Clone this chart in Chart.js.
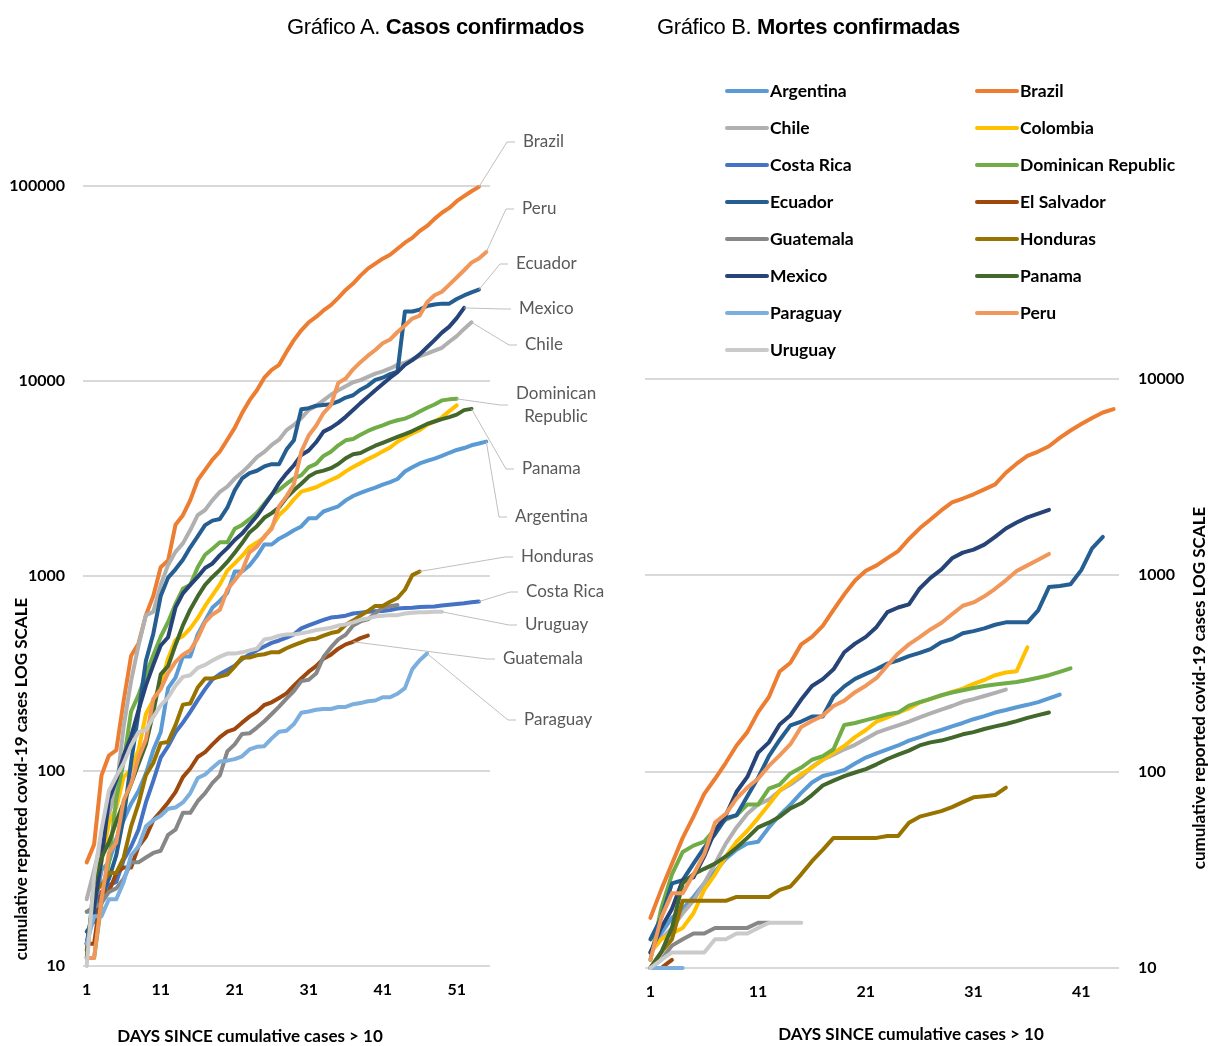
<!DOCTYPE html>
<html>
<head>
<meta charset="utf-8">
<script src="https://cdn.jsdelivr.net/npm/chart.js@4.4.1/dist/chart.umd.min.js"></script>
<style>
html, body { margin: 0; padding: 0; background: #fff; }
#wrap { position: relative; width: 1209px; height: 1046px; overflow: hidden; }
#chartA { position: absolute; left: 0; top: 0; }
#chartB { position: absolute; left: 610px; top: 0; }
.title {
    position: absolute; top: 14px; line-height: 26px;
    font-family: "Liberation Sans", Arial, sans-serif; font-size: 22px;
    letter-spacing: -0.35px; color: #000; white-space: nowrap;
}
</style>
</head>
<body>
<div id="wrap">
    <canvas id="chartA" width="610" height="1046"></canvas>
    <canvas id="chartB" width="599" height="1046"></canvas>
    <div class="title" style="left:287px">Gráfico A. <b>Casos confirmados</b></div>
    <div class="title" style="left:657px">Gráfico B. <b>Mortes confirmadas</b></div>
</div>
<script>
// ---- data ----
const daysA = Array.from({length: 55}, (_, i) => String(i + 1));
const daysB = Array.from({length: 44}, (_, i) => String(i + 1));
const yTicksA = [10, 100, 1000, 10000, 100000];
const yTicksB = [10, 100, 1000, 10000];

const countries = ["Argentina", "Brazil", "Chile", "Colombia", "Costa Rica",
    "Dominican Republic", "Ecuador", "El Salvador", "Guatemala", "Honduras",
    "Mexico", "Panama", "Paraguay", "Peru", "Uruguay"];

const colors = ["#5B9BD5", "#ED7D31", "#B0B0B0", "#FFC000", "#4472C4",
    "#70AD47", "#255E91", "#9E480E", "#878787", "#997300",
    "#264478", "#43682B", "#7CAFDD", "#F1975A", "#CACACA"];

// confirmed cases (chart A)
const argentinaCases = [19,19,31,34,45,56,68,79,97,128,158,266,301,387,387,502,589,690,745,820,1054,1054,1133,1265,1451,1451,1554,1628,1715,1795,1975,1975,2142,2208,2277,2443,2571,2669,2758,2839,2941,3031,3144,3435,3607,3780,3892,4003,4127,4285,4428,4532,4681,4783,4887];
const brazilCases = [34,42,95,120,128,230,390,450,630,790,1110,1200,1830,2050,2450,3100,3500,3950,4350,5000,5750,6850,7950,8970,10400,11400,12100,14100,16200,18200,20000,21300,23000,24500,26700,29300,31600,34700,37700,40000,42400,44400,47700,51200,54200,58800,62400,67800,72900,77200,83600,88700,94000,99000];
const chileCases = [22,31,44,60,80,170,290,440,630,655,900,1140,1330,1470,1720,2050,2180,2450,2700,2870,3160,3400,3700,4070,4330,4700,5000,5600,5950,6450,7100,7450,7950,8500,8970,9400,9850,10100,10500,10900,11200,11600,12100,12400,12900,13400,13800,14300,14800,15900,17000,18500,20000];
const colombiaCases = [13,22,34,54,65,93,102,128,196,231,277,378,470,491,539,608,702,798,906,1065,1161,1267,1406,1485,1579,1780,2054,2223,2473,2709,2776,2852,2979,3105,3233,3439,3621,3792,3977,4149,4356,4561,4881,5142,5379,5597,5949,6207,6507,7006,7500];
const costaRicaCases = [13,22,23,26,27,35,41,50,69,89,117,134,158,177,201,231,263,295,314,330,347,375,396,416,435,454,467,483,502,539,558,577,595,612,618,626,642,649,655,660,662,669,681,686,687,693,695,697,705,713,719,725,733,739];
const dominicanCases = [11,11,21,34,72,112,202,245,312,392,488,581,719,859,901,1109,1284,1380,1488,1488,1745,1828,1956,2111,2349,2620,2759,2967,3167,3286,3614,3755,4126,4335,4680,4964,5044,5300,5543,5749,5926,6135,6293,6416,6652,6972,7288,7578,7954,8050,8100];
const ecuadorCases = [15,17,23,28,37,58,111,199,367,506,789,981,1082,1211,1403,1595,1823,1924,1962,2240,2748,3163,3368,3465,3646,3747,3747,4450,4965,7161,7257,7466,7529,7603,7858,8225,8450,9022,9468,10128,10398,10850,11183,22719,22719,23240,24258,24675,24934,24934,26336,27464,28500,29400];
const elSalvadorCases = [13,13,24,24,30,32,32,41,46,56,62,69,78,93,103,118,125,137,149,159,164,177,190,201,218,225,237,250,274,298,323,345,377,395,424,446,460,480,495];
const guatemalaCases = [19,20,21,24,25,28,34,34,36,38,39,47,50,61,61,70,77,87,95,126,137,155,156,167,180,196,214,235,257,289,294,316,384,430,473,500,557,585,599,644,688,700,710];
const hondurasCases = [12,24,26,30,30,36,52,68,95,110,139,141,172,219,222,268,298,298,305,312,343,382,382,392,397,407,407,426,442,457,472,477,494,510,519,562,591,627,661,702,702,738,771,850,1010,1055];
const mexicoCases = [13,20,35,71,90,120,150,205,275,350,440,485,690,815,900,990,1100,1160,1280,1390,1530,1650,1830,2030,2300,2600,3000,3350,3700,4170,4400,4850,5500,5750,6100,6550,7100,7700,8300,8970,9650,10400,11100,12100,12800,13700,14900,16200,17700,19000,21000,23700];
const panamaCases = [11,27,36,43,55,69,86,109,137,200,313,345,443,558,674,786,901,989,1075,1181,1317,1475,1673,1801,1988,2100,2249,2528,2752,2974,3234,3400,3472,3574,3751,4016,4210,4273,4467,4658,4821,4992,5166,5338,5538,5779,6021,6200,6378,6532,6720,7090,7197];
const paraguayCases = [13,18,18,22,22,27,37,41,52,56,59,64,65,69,77,92,96,104,112,113,115,119,129,133,134,147,159,161,174,199,202,206,208,208,213,213,220,223,228,230,239,239,249,266,333,370,400];
const peruCases = [11,11,22,38,43,71,86,117,145,234,263,318,363,395,416,480,580,635,671,852,950,1065,1323,1414,1595,1746,2281,2561,2954,4342,5256,5897,6848,7519,9784,10303,11475,12491,13489,14420,15628,16325,17837,19250,20914,21648,25331,27517,28699,31190,33931,36976,40459,42534,45928];
const uruguayCases = [10,29,50,79,94,110,135,158,162,189,217,238,274,304,310,338,350,369,386,400,400,406,415,424,473,480,494,501,502,508,517,528,535,543,557,565,578,596,606,620,625,630,630,642,648,652,652,655,655];

// confirmed deaths (chart B)
const argentinaDeaths = [12,15,18,20,23,27,31,36,40,43,44,52,60,68,78,88,95,98,102,110,118,124,130,136,144,150,157,163,170,177,185,192,200,206,213,219,226,236,247];
const brazilDeaths = [18,25,34,46,59,77,92,111,136,159,201,240,324,359,445,486,553,667,800,941,1056,1124,1223,1328,1532,1736,1924,2141,2354,2462,2587,2741,2906,3331,3704,4057,4271,4543,5017,5466,5901,6329,6750,7025];
const chileDeaths = [12,14,16,19,22,27,34,43,52,61,68,72,80,86,94,106,115,122,130,137,147,158,165,172,180,189,198,207,216,227,234,243,252,262];
const colombiaDeaths = [12,14,15,16,19,25,30,37,44,50,58,68,80,88,97,105,115,125,135,150,163,180,189,200,210,225,235,244,255,265,280,293,310,320,325,430];
const costaRicaDeaths = [];
const dominicanDeaths = [11,20,30,39,42,44,51,57,60,68,68,82,86,98,105,115,120,130,173,177,183,189,196,200,217,226,235,245,253,260,267,273,278,282,286,293,301,310,322,336];
const ecuadorDeaths = [14,18,27,28,34,41,48,58,60,75,93,120,145,172,180,191,191,242,272,297,315,333,355,369,388,403,421,456,474,507,520,537,560,576,576,576,663,871,883,900,1063,1371,1569];
const elSalvadorDeaths = [10,10,11];
const guatemalaDeaths = [10,11,13,14,15,15,16,16,16,16,17,17];
const hondurasDeaths = [10,12,14,22,22,22,22,22,23,23,23,23,25,26,30,35,40,46,46,46,46,46,47,47,55,59,61,63,66,70,74,75,76,83];
const mexicoDeaths = [12,16,20,28,29,37,50,60,79,94,125,141,174,194,233,273,296,332,406,449,486,546,650,686,712,857,970,1069,1221,1305,1351,1434,1569,1732,1859,1972,2061,2154];
const panamaDeaths = [10,12,16,27,30,32,34,37,41,46,52,55,59,65,69,76,85,90,95,99,103,109,116,122,128,136,141,144,149,155,159,165,170,175,181,188,194,200];
const paraguayDeaths = [10,10,10,10];
const peruDeaths = [11,18,24,24,30,38,55,61,73,83,92,107,121,138,169,181,193,216,230,254,274,300,348,400,445,484,530,572,634,700,728,782,854,943,1051,1124,1200,1286];
const uruguayDeaths = [10,11,12,12,12,12,14,14,15,15,16,17,17,17,17];

const casesSeries = [argentinaCases, brazilCases, chileCases, colombiaCases, costaRicaCases,
    dominicanCases, ecuadorCases, elSalvadorCases, guatemalaCases, hondurasCases,
    mexicoCases, panamaCases, paraguayCases, peruCases, uruguayCases];
const deathsSeries = [argentinaDeaths, brazilDeaths, chileDeaths, colombiaDeaths, costaRicaDeaths,
    dominicanDeaths, ecuadorDeaths, elSalvadorDeaths, guatemalaDeaths, hondurasDeaths,
    mexicoDeaths, panamaDeaths, paraguayDeaths, peruDeaths, uruguayDeaths];

const yTitle = "cumulative reported covid-19 cases LOG SCALE";
const xTitle = "DAYS SINCE cumulative cases > 10";

// ---- label / legend placement ----
const FONT = 'Lato, "Open Sans", sans-serif';

const caseLabelSpots = [
    {text: ["Brazil"], series: "Brazil", x: 523, y: 142},
    {text: ["Peru"], series: "Peru", x: 522, y: 209},
    {text: ["Ecuador"], series: "Ecuador", x: 516, y: 264},
    {text: ["Mexico"], series: "Mexico", x: 519, y: 309},
    {text: ["Chile"], series: "Chile", x: 525, y: 345},
    {text: ["Dominican", "Republic"], series: "Dominican Republic", x: 516, y: 405},
    {text: ["Panama"], series: "Panama", x: 522, y: 469},
    {text: ["Argentina"], series: "Argentina", x: 515, y: 517},
    {text: ["Honduras"], series: "Honduras", x: 521, y: 557},
    {text: ["Costa Rica"], series: "Costa Rica", x: 526, y: 592},
    {text: ["Uruguay"], series: "Uruguay", x: 525, y: 625},
    {text: ["Guatemala"], series: "El Salvador", point: 36, x: 503, y: 659},
    {text: ["Paraguay"], series: "Paraguay", x: 524, y: 720}
];

function buildDatasets(series) {
    return countries.map((name, i) => ({
        label: name,
        data: series[i],
        borderColor: colors[i],
        backgroundColor: colors[i],
        borderWidth: 4,
        pointRadius: 0,
        pointHoverRadius: 0,
        tension: 0,
        borderJoinStyle: "round",
        borderCapStyle: "round",
        clip: 4,
        order: countries.length - i
    }));
}

function xScale(labels, height) {
    return {
        type: "category",
        offset: true,
        grid: {display: false, drawTicks: false},
        border: {display: false},
        ticks: {
            autoSkip: false,
            maxRotation: 0,
            padding: 14,
            color: "#000",
            font: {family: FONT, weight: "bold", size: 16},
            callback: (v, i) => i % 10 === 0 ? labels[i] : ""
        },
        afterFit: s => { s.height = height; }
    };
}

function yScale(ticks, max, position, width, padding) {
    return {
        type: "logarithmic",
        position,
        min: 10,
        max,
        afterBuildTicks: s => { s.ticks = ticks.map(v => ({value: v})); },
        grid: {color: "#D9D9D9", lineWidth: 2, drawTicks: false},
        border: {display: false},
        ticks: {
            padding,
            color: "#000",
            font: {family: FONT, weight: "bold", size: 16},
            callback: v => String(v)
        },
        afterFit: s => { s.width = width; }
    };
}

function drawTitles(ctx, yx, yy, xx, xy) {
    ctx.save();
    ctx.fillStyle = "#000";
    ctx.font = "bold 17px " + FONT;
    ctx.textAlign = "center";
    ctx.textBaseline = "middle";
    ctx.fillText(xTitle, xx, xy);
    ctx.translate(yx, yy);
    ctx.rotate(-Math.PI / 2);
    ctx.fillText(yTitle, 0, 0);
    ctx.restore();
}

const caseLabelsPlugin = {
    id: "caseLabels",
    afterDatasetsDraw(chart) {
        const ctx = chart.ctx;
        ctx.save();
        ctx.font = "17px " + FONT;
        ctx.textBaseline = "middle";
        caseLabelSpots.forEach(l => {
            const di = chart.data.datasets.findIndex(d => d.label === l.series);
            const meta = chart.getDatasetMeta(di);
            const pt = meta.data[l.point != null ? l.point : meta.data.length - 1];
            ctx.strokeStyle = "#BFBFBF";
            ctx.lineWidth = 1;
            ctx.beginPath();
            ctx.moveTo(pt.x, pt.y);
            ctx.lineTo(l.x - 16, l.y);
            ctx.lineTo(l.x - 8, l.y);
            ctx.stroke();
            ctx.fillStyle = "#595959";
            if (l.text.length === 1) {
                ctx.textAlign = "left";
                ctx.fillText(l.text[0], l.x, l.y);
            } else {
                const w = Math.max(...l.text.map(t => ctx.measureText(t).width));
                ctx.textAlign = "center";
                ctx.fillText(l.text[0], l.x + w / 2, l.y - 11);
                ctx.fillText(l.text[1], l.x + w / 2, l.y + 12);
            }
        });
        ctx.restore();
        drawTitles(ctx, 22, 779, 250, 1037);
    }
};

const legendPlugin = {
    id: "deathLegend",
    afterDraw(chart) {
        const ctx = chart.ctx;
        ctx.save();
        ctx.font = "bold 17.5px " + FONT;
        ctx.textBaseline = "middle";
        ctx.textAlign = "left";
        chart.data.datasets.forEach((d, i) => {
            const x = i % 2 === 0 ? 115 : 365;
            const y = 91 + Math.floor(i / 2) * 37;
            ctx.strokeStyle = d.borderColor;
            ctx.lineWidth = 4;
            ctx.lineCap = "round";
            ctx.beginPath();
            ctx.moveTo(x + 2, y);
            ctx.lineTo(x + 42, y);
            ctx.stroke();
            ctx.fillStyle = "#000";
            ctx.fillText(d.label, x + 45, y);
        });
        ctx.restore();
        drawTitles(ctx, 590, 688, 301, 1035);
    }
};

new Chart(document.getElementById("chartA"), {
    type: "line",
    data: {labels: daysA, datasets: buildDatasets(casesSeries)},
    options: {
        responsive: false,
        animation: false,
        events: [],
        layout: {padding: {top: 186, left: 0, right: 120, bottom: 0}},
        plugins: {legend: {display: false}, tooltip: {enabled: false}},
        scales: {
            x: xScale(daysA, 80),
            y: yScale(yTicksA, 100000, "left", 83, 18)
        }
    },
    plugins: [caseLabelsPlugin]
});

new Chart(document.getElementById("chartB"), {
    type: "line",
    data: {labels: daysB, datasets: buildDatasets(deathsSeries)},
    options: {
        responsive: false,
        animation: false,
        events: [],
        layout: {padding: {top: 379, left: 35, right: 0, bottom: 0}},
        plugins: {legend: {display: false}, tooltip: {enabled: false}},
        scales: {
            x: xScale(daysB, 78),
            y: yScale(yTicksB, 10000, "right", 90, 19)
        }
    },
    plugins: [legendPlugin]
});
</script>
</body>
</html>
